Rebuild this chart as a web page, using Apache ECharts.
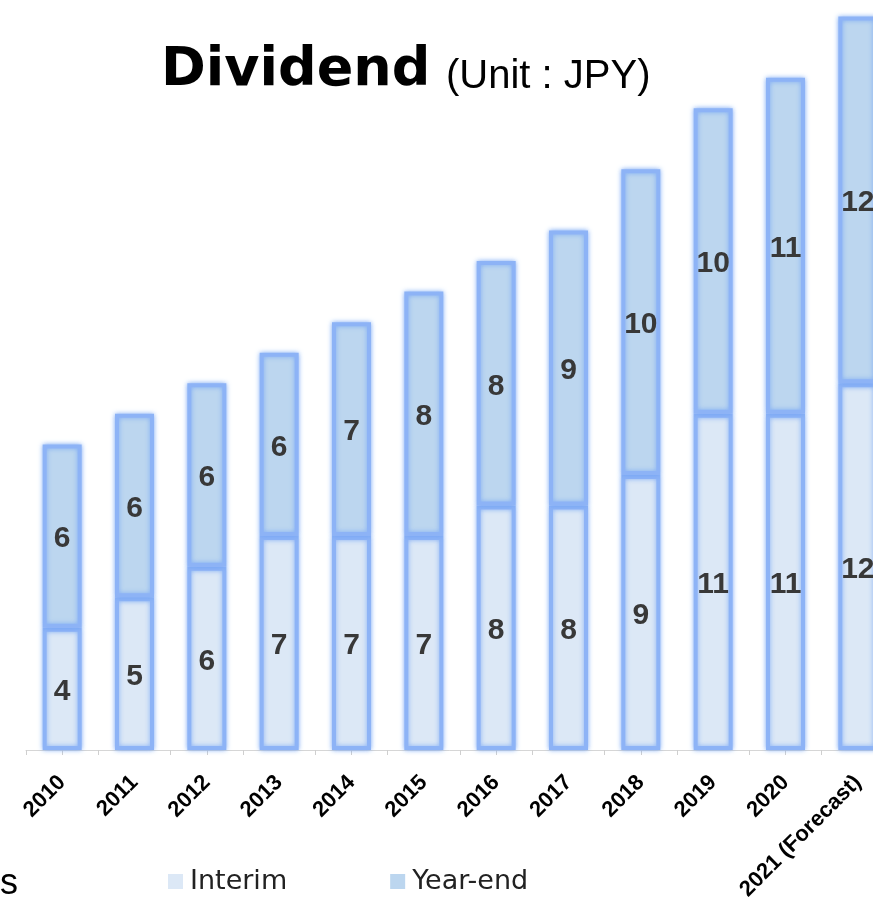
<!DOCTYPE html>
<html>
<head>
<meta charset="utf-8">
<script src="https://cdn.jsdelivr.net/npm/echarts@6/dist/echarts.min.js"></script>
<style>
html,body{margin:0;padding:0;background:#fff;}
#chart{width:873px;height:902px;}
</style>
</head>
<body>
<div id="chart"></div>
<script>
const categories = ['2010','2011','2012','2013','2014','2015','2016','2017','2018','2019','2020','2021 (Forecast)'];
const interim = [4,5,6,7,7,7,8,8,9,11,11,12];
const yearEnd = [6,6,6,6,7,8,8,9,10,10,11,12];
const seriesNames = ['Interim','Year-end'];

const chart = echarts.init(document.getElementById('chart'));
const barBorder = {
  borderColor: '#8db3f6',
  borderWidth: 4,
  shadowBlur: 5,
  shadowColor: 'rgba(110,160,245,0.8)'
};
const labelStyle = {
  show: true,
  position: 'inside',
  offset: [0, 3],
  fontFamily: 'Liberation Sans, Arial, sans-serif',
  fontWeight: 'bold',
  fontSize: 30,
  color: '#383838'
};
chart.setOption({
  backgroundColor: '#ffffff',
  animation: false,
  title: [
    { text: 'Dividend', left: 161, top: 44, padding: 0,
      textStyle: { fontFamily: 'DejaVu Sans', fontWeight: 'bold', fontSize: 54, color: '#000' } },
    { text: '(Unit : JPY)', left: 446, top: 57, padding: 0,
      textStyle: { fontFamily: 'Liberation Sans, Arial', fontWeight: 'normal', fontSize: 40, color: '#000' } }
  ],
  legend: {
    left: 163, top: 863,
    itemWidth: 15, itemHeight: 15, itemGap: 103,
    icon: 'rect',
    itemStyle: { borderWidth: 0, shadowBlur: 0 },
    textStyle: { fontFamily: 'DejaVu Sans', fontSize: 27, color: '#222', padding: [0,0,0,2] },
    data: seriesNames
  },
  graphic: [
    { type: 'text', left: 0, top: 866, style: { text: 's', font: '36px Liberation Sans, Arial', fill: '#000' } }
  ],
  grid: { left: 26, top: -14, width: 868, height: 764, containLabel: false, outerBoundsMode: 'none' },
  xAxis: [
    {
      type: 'category', data: categories,
      axisLine: { lineStyle: { color: '#d6d6d6', width: 1 } },
      axisTick: { show: true, length: 5, lineStyle: { color: '#cfcfcf' } },
      axisLabel: { rotate: 45, margin: 29, interval: 0, fontFamily: 'Liberation Sans, Arial', fontWeight: 'bold', fontSize: 22, color: '#000' }
    },
    {
      type: 'category', data: categories, position: 'bottom',
      axisLine: { show: false },
      axisTick: { show: true, alignWithLabel: true, length: 5, lineStyle: { color: '#cfcfcf' } },
      axisLabel: { show: false }
    }
  ],
  yAxis: { type: 'value', min: 0, max: 25, show: false, splitLine: { show: false } },
  series: [
    {
      name: seriesNames[0], type: 'bar', stack: 'div', barWidth: 39, data: interim,
      itemStyle: Object.assign({ color: '#dce8f6' }, barBorder),
      label: labelStyle
    },
    {
      name: seriesNames[1], type: 'bar', stack: 'div', barWidth: 39, data: yearEnd,
      itemStyle: Object.assign({ color: '#bcd6ef' }, barBorder),
      label: labelStyle
    }
  ]
});
</script>
</body>
</html>
